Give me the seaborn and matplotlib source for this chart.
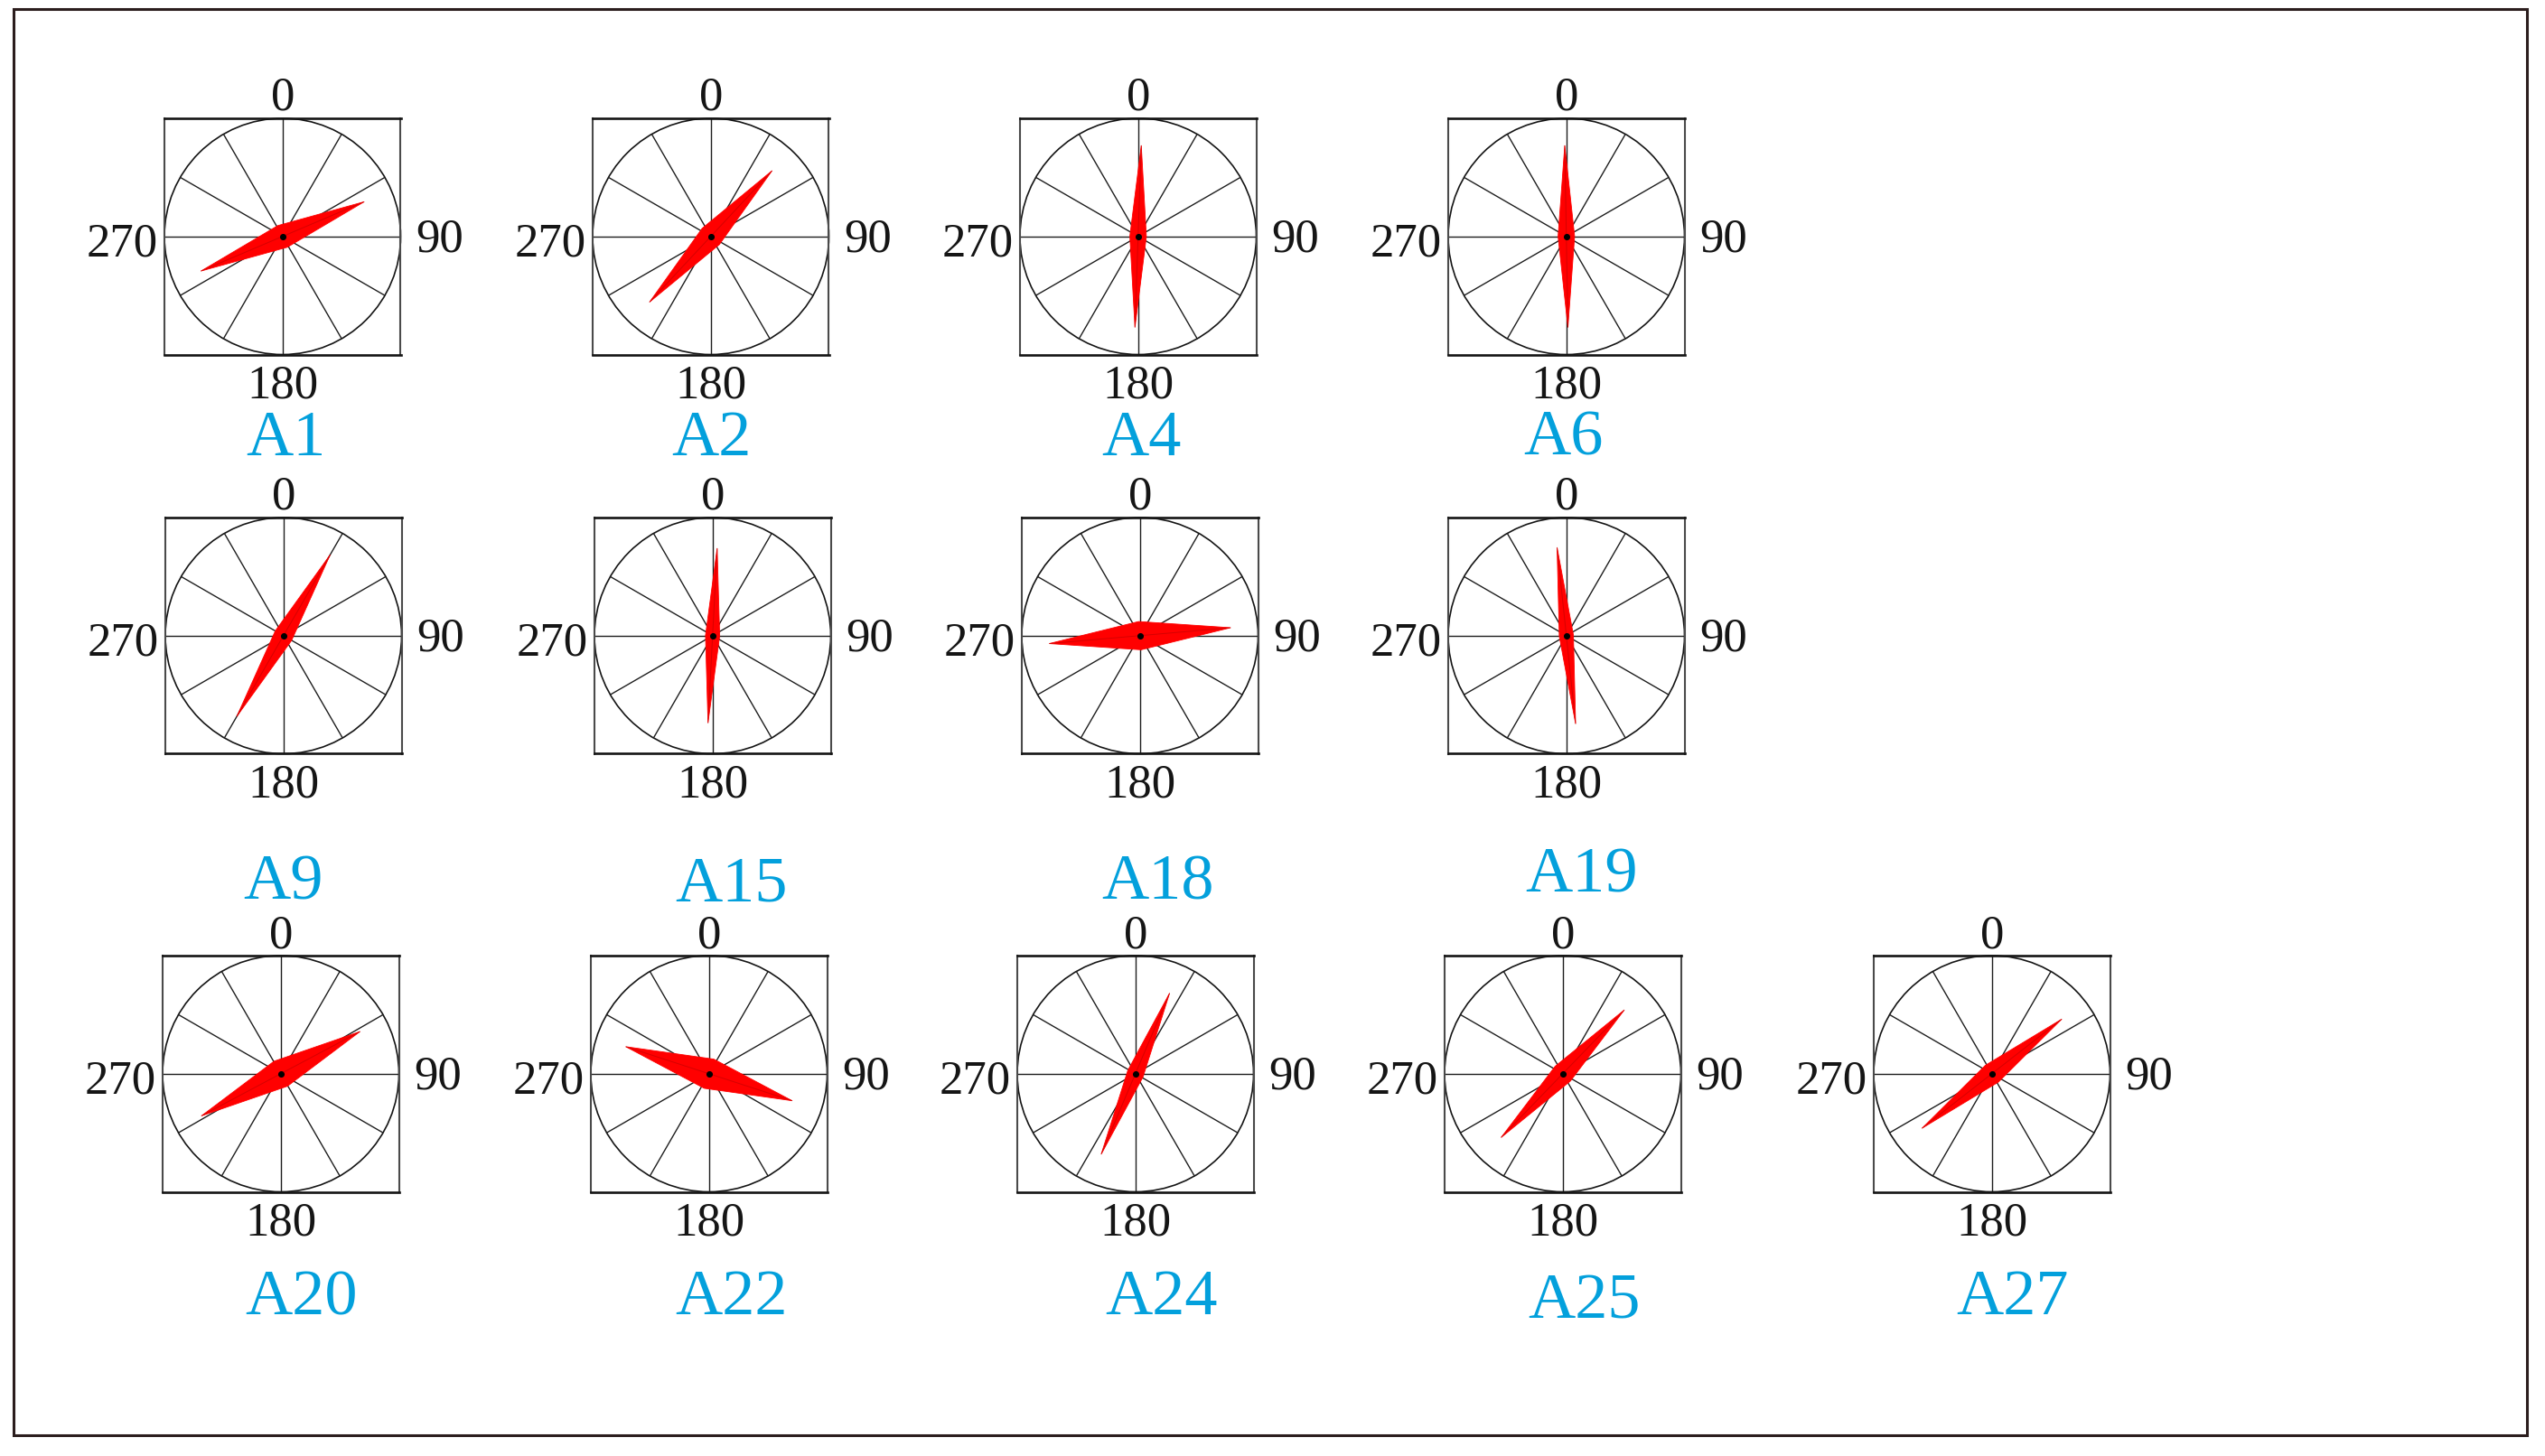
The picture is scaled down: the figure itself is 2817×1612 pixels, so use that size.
import numpy as np
import matplotlib
matplotlib.use('Agg')
import matplotlib.pyplot as plt
from matplotlib.patches import Circle, Polygon, Rectangle
import seaborn as sns

# stations and their joint rose readings
stations = ['A1', 'A2', 'A4', 'A6', 'A9', 'A15', 'A18', 'A19',
            'A20', 'A22', 'A24', 'A25', 'A27']
# dominant strike (deg, clockwise from north)
strike = [67, 43, 2, 359, 30, 3, 85, 354, 62, 108, 23, 44, 52]
# petal half-length / half-width as a fraction of the outer circle
petal_len = [0.75, 0.76, 0.77, 0.77, 0.79, 0.74, 0.77, 0.75,
             0.76, 0.74, 0.74, 0.75, 0.75]
petal_wid = [0.10, 0.10, 0.07, 0.07, 0.08, 0.06, 0.12, 0.06,
             0.12, 0.13, 0.07, 0.09, 0.09]
spokes = np.arange(0, 360, 30)
dir_labels = ['0', '90', '180', '270']

# layout (pixels) -- left/top of each square, centre of each station title
W, H = 2817, 1612
SIDE = 261.5
panel_xy = [(182, 131), (656, 131), (1129, 131), (1603, 131),
            (183, 573), (658, 573), (1131, 573), (1603, 573),
            (180, 1058), (654, 1058), (1126, 1058), (1599, 1058), (2074, 1058)]
title_xy = [(316, 479), (787, 479), (1263, 479), (1730, 479),
            (314, 971), (809, 973), (1281, 971), (1751, 962),
            (334, 1430), (809, 1430), (1285, 1430), (1754, 1434), (2228, 1430)]

sns.set_theme(style='white')
plt.rcParams['font.family'] = ['Liberation Serif', 'DejaVu Serif']

fig = plt.figure(figsize=(W / 100, H / 100), dpi=100)
fig.patch.set_facecolor('white')


def draw_rose(ax, k):
    ax.set_xlim(-1, 1)
    ax.set_ylim(-1, 1)
    ax.set_xticks([])
    ax.set_yticks([])
    for s in ['top', 'bottom']:
        ax.spines[s].set(color='#141414', linewidth=1.9)
    for s in ['left', 'right']:
        ax.spines[s].set(color='#4a4a4a', linewidth=1.5)

    ax.add_patch(Circle((0, 0), 1, fill=False, ec='#151515', lw=1.2, clip_on=False))
    for a in spokes:
        t = np.radians(a)
        ax.plot([0, np.sin(t)], [0, np.cos(t)], color='#1e1e1e', lw=1.0)

    t = np.radians(strike[k])
    L, w = petal_len[k], petal_wid[k]
    ang = np.array([t, t + np.pi / 2, t + np.pi, t + 3 * np.pi / 2])
    rad = np.array([L, w, L, w])
    ax.add_patch(Polygon(np.c_[rad * np.sin(ang), rad * np.cos(ang)], closed=True,
                         fc='#ff0000', ec='#ff0000', lw=0.6, zorder=3))
    ax.plot([-L * np.sin(t), L * np.sin(t)], [-L * np.cos(t), L * np.cos(t)],
            color='#b00000', lw=0.7, alpha=0.5, zorder=4)
    sns.scatterplot(x=[0], y=[0], ax=ax, color='black', s=26, zorder=5, linewidth=0)

    lab = dict(xycoords='axes fraction', textcoords='offset pixels',
               fontsize=38, color='#151515', va='baseline')
    ax.annotate(dir_labels[0], (0.5, 1), xytext=(0, 9), ha='center', **lab)
    ax.annotate(dir_labels[2], (0.5, 0), xytext=(0, -48), ha='center', **lab)
    ax.annotate(dir_labels[3], (0, 0.5), xytext=(-7, -22), ha='right', **lab)
    ax.annotate(dir_labels[1], (1, 0.5), xytext=(17, -17), ha='left', **lab)


for k, name in enumerate(stations):
    x, y = panel_xy[k]
    ax = fig.add_axes([x / W, 1 - (y + SIDE) / H, SIDE / W, SIDE / H])
    draw_rose(ax, k)
    tx, ty = title_xy[k]
    fig.text(tx / W, 1 - (ty + 25) / H, name, ha='center', va='baseline',
             fontsize=52, color='#03a0dc')

fig.add_artist(Rectangle((15 / W, 1 - 1589 / H), (2797 - 15) / W, (1589 - 10) / H,
                         transform=fig.transFigure, fill=False,
                         ec='#2b1d1d', lw=2.2))

fig.savefig('out.png', dpi=100)
